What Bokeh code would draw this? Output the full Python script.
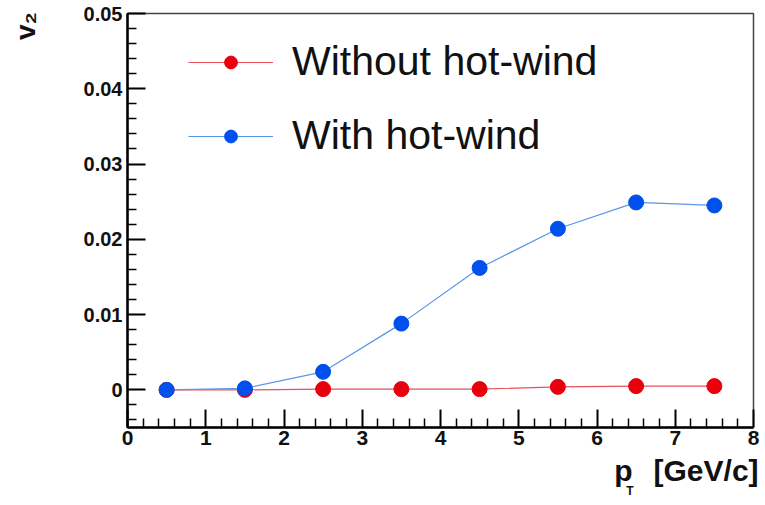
from bokeh.plotting import figure
from bokeh.models import (FixedTicker, CustomJSTickFormatter, Legend,
                          LegendItem, Range1d, LinearAxis)
from bokeh.embed import file_html
from bokeh.resources import INLINE

# ---- data ----
pt = [0.5, 1.5, 2.5, 3.5, 4.5, 5.5, 6.5, 7.5]
v2_without = [0.0, 0.0, 0.0001, 0.0001, 0.0001, 0.0004, 0.0005, 0.0005]
v2_with = [0.0, 0.0002, 0.0024, 0.0088, 0.0162, 0.0214, 0.0249, 0.0245]
series_labels = ["Without hot-wind", "With hot-wind"]

x_ticks = [0, 1, 2, 3, 4, 5, 6, 7, 8]
x_tick_labels = ["0", "1", "2", "3", "4", "5", "6", "7", "8"]
y_ticks = [0.0, 0.01, 0.02, 0.03, 0.04, 0.05]
y_tick_labels = ["0", "0.01", "0.02", "0.03", "0.04", "0.05"]
x_minor = [i / 5 for i in range(0, 41) if i % 5]
y_minor = [i * 0.002 for i in range(-2, 26) if i % 5]

x_title = "p\u2002\u2009[GeV/c]"
x_title_sub = "T"
x_title_sub_at = 6.42
y_title = "v\u2082"

FONT = "Liberation Sans"
RED_DOT, RED_LINE = "#e8000c", "#e8505a"
BLUE_DOT, BLUE_LINE = "#0050ee", "#5a96e6"
NBSP = "\u00a0"

p = figure(width=765, height=505, frame_width=626, frame_height=414,
           output_backend="svg", toolbar_location=None,
           x_range=Range1d(0, 8), y_range=Range1d(-0.005, 0.05))
p.min_border_left = 127
p.min_border_right = 12
p.min_border_top = 13
p.min_border_bottom = 78
p.xgrid.visible = False
p.ygrid.visible = False
p.background_fill_color = "white"
p.border_fill_color = "white"
p.outline_line_color = "#444444"
p.outline_line_width = 1.5

def fmt(vals, labels):
    return CustomJSTickFormatter(args=dict(tick_vals=vals, tick_labels=labels), code="""
        const i = tick_vals.findIndex(t => Math.abs(t - tick) < 1e-9);
        return i >= 0 ? tick_labels[i] : '';
    """)

for ax, vals, labels, minor, size in [
        (p.xaxis[0], x_ticks, x_tick_labels, x_minor, "21px"),
        (p.yaxis[0], y_ticks, y_tick_labels, y_minor, "20px")]:
    ax.ticker = FixedTicker(ticks=vals, minor_ticks=minor)
    ax.formatter = fmt(vals, labels)
    ax.axis_line_color = "black"
    ax.axis_line_width = 2.5
    ax.major_tick_in = 18
    ax.major_tick_out = 0
    ax.minor_tick_in = 9
    ax.minor_tick_out = 0
    ax.major_tick_line_width = 2
    ax.minor_tick_line_width = 1.5
    ax.major_tick_line_color = "black"
    ax.minor_tick_line_color = "black"
    ax.major_label_text_font = FONT
    ax.major_label_text_font_style = "bold"
    ax.major_label_text_font_size = size
    ax.major_label_text_color = "#111111"
    ax.axis_label_text_font = FONT
    ax.axis_label_text_font_style = "bold"
    ax.axis_label_text_color = "#111111"
    ax.axis_label_align = "center"
p.xaxis.major_label_standoff = 3
p.yaxis.major_label_standoff = 5

# axis titles sit at the far end of each axis: leading no-break spaces
# push the visible text there while the label stays centred on the axis
p.xaxis.axis_label = NBSP * 59 + x_title
p.xaxis.axis_label_text_font_size = "30px"
p.xaxis.axis_label_standoff = 6
p.yaxis.axis_label = NBSP * 50 + y_title
p.yaxis.axis_label_text_font_size = "28px"
p.yaxis.axis_label_standoff = 40

# subscript "T" of p_T, carried by a bare extra axis below the main one
sub_ax = LinearAxis(ticker=FixedTicker(ticks=[x_title_sub_at]),
                    formatter=fmt([x_title_sub_at], [x_title_sub]),
                    axis_line_color=None, major_tick_line_color=None,
                    minor_tick_line_color=None, major_tick_in=0, major_tick_out=0,
                    major_label_standoff=-6, major_label_text_font=FONT,
                    major_label_text_font_style="bold",
                    major_label_text_font_size="12px",
                    major_label_text_color="#111111")
p.add_layout(sub_ax, "below")

# series: red drawn first, blue on top
r_line = p.line(pt, v2_without, line_color=RED_LINE, line_width=1.2)
r_dot = p.scatter(pt, v2_without, size=15, fill_color=RED_DOT, line_color=RED_DOT)
b_line = p.line(pt, v2_with, line_color=BLUE_LINE, line_width=1.2)
b_dot = p.scatter(pt, v2_with, size=15, fill_color=BLUE_DOT, line_color=BLUE_DOT)

legend = Legend(items=[LegendItem(label=series_labels[0], renderers=[r_line, r_dot]),
                       LegendItem(label=series_labels[1], renderers=[b_line, b_dot])],
                location=(61, 268), orientation="vertical",
                glyph_width=85, glyph_height=32, label_standoff=19,
                label_text_font=FONT, label_text_font_size="41px",
                label_text_color="#111111", spacing=27, padding=0, margin=0,
                border_line_color=None, background_fill_alpha=0)
p.add_layout(legend, "center")

open("out.html", "w").write(file_html(p, INLINE))
